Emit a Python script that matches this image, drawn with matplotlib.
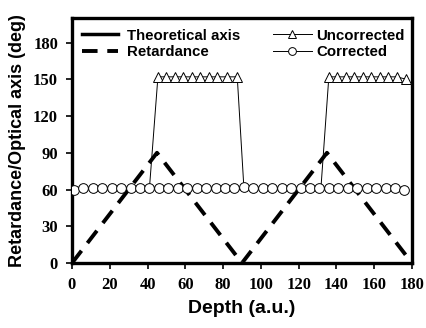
import matplotlib.pyplot as plt

# depth axis samples
depth_ret = [0, 45, 90, 135, 180]
retardance = [0, 90, 0, 90, 0]

depth_theo = [1, 176]
theoretical = [61, 61]

depth_unc = [0, 4.5, 9, 13.5, 18, 22.5, 27, 31.5, 36, 41,
             45.5, 50, 54.5, 59, 63.5, 68, 72.5, 77, 82, 87.5,
             91, 95.5, 100, 104.5, 109, 113.5, 118, 122.5, 127, 131.8,
             136, 140.5, 145, 149.5, 154, 158.5, 163, 167.5, 172, 177]
uncorrected = [60, 61, 61, 61, 61, 61, 61, 61, 61, 61,
               152, 152, 152, 152, 152, 152, 152, 152, 152, 152,
               62, 61, 61, 61, 61, 61, 61, 61, 61, 61,
               152, 152, 152, 152, 152, 152, 152, 152, 152, 150]

depth_cor = [1, 6, 11, 16, 21, 26, 31, 36, 41, 46, 51, 56, 61, 66, 71, 76, 81, 86,
             91, 96, 101, 106, 111, 116, 121, 126, 131, 136, 141, 146, 151, 156,
             161, 166, 171, 176]
corrected = [60, 61, 61, 61, 61, 61, 61, 61, 61, 61, 61, 61, 61, 61, 61, 61, 61, 61,
             62, 61, 61, 61, 61, 61, 61, 61, 61, 61, 61, 61, 61, 61,
             61, 61, 61, 60]

xticks = list(range(0, 181, 20))
yticks = list(range(0, 181, 30))

# triangles are only visible where the uncorrected axis leaves the corrected one
unc_marked = [i for i, v in enumerate(uncorrected) if v > 100]

fig = plt.figure(figsize=(4.26, 3.28), dpi=100)
ax = fig.add_axes([0.169, 0.198, 0.798, 0.747])

h_theo, = ax.plot(depth_theo, theoretical, color='black', lw=2.5, label='Theoretical axis', zorder=1)
h_ret, = ax.plot(depth_ret, retardance, color='black', lw=2.8, dashes=(4, 2.5), label='Retardance', zorder=2)
h_unc, = ax.plot(depth_unc, uncorrected, color='black', lw=0.7, marker='^', ms=6.5,
                 mfc='white', mec='black', mew=0.7, markevery=unc_marked,
                 label='Uncorrected', zorder=3)
h_cor, = ax.plot(depth_cor, corrected, color='black', lw=0.7, marker='o', ms=7,
                 mfc='white', mec='black', mew=0.7, label='Corrected', zorder=4)

ax.set_xlim(0, 180)
ax.set_ylim(0, 200)
ax.set_xticks(xticks)
ax.set_yticks(yticks)
for s in ax.spines.values():
    s.set_linewidth(2.4)
ax.tick_params(direction='out', length=4, width=1.2, pad=6)
for lab in ax.get_xticklabels() + ax.get_yticklabels():
    lab.set_fontfamily('Liberation Serif')
    lab.set_fontweight('bold')
    lab.set_fontsize(12)

ax.set_xlabel('Depth (a.u.)', fontfamily='Liberation Sans', fontweight='bold', fontsize=14, labelpad=5)
ax.set_ylabel('Retardance/Optical axis (deg)', fontfamily='Liberation Sans', fontweight='bold', fontsize=13, labelpad=5)

font = {'family': 'Liberation Sans', 'weight': 'bold', 'size': 10.8}
leg1 = ax.legend(handles=[h_theo, h_ret], loc='upper left', bbox_to_anchor=(0.0, 1.0),
                 frameon=False, prop=font, handlelength=2.4, handletextpad=0.55,
                 labelspacing=0.15, borderaxespad=0.3)
ax.add_artist(leg1)
ax.legend(handles=[h_unc, h_cor], loc='upper left', bbox_to_anchor=(0.56, 1.0),
          frameon=False, prop=font, handlelength=2.6, handletextpad=0.3,
          labelspacing=0.15, borderaxespad=0.3, markerscale=0.8)

fig.savefig('out.png', dpi=100)
